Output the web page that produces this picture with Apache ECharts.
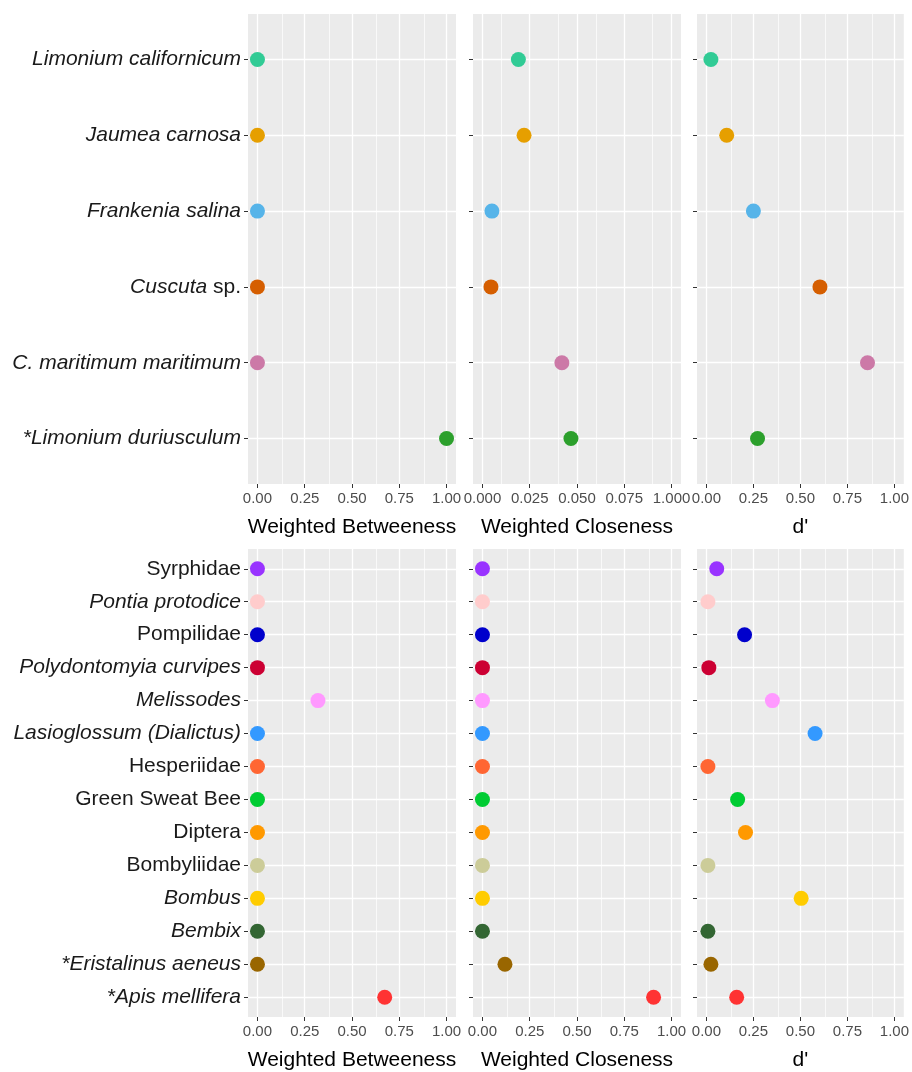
<!DOCTYPE html>
<html>
<head>
<meta charset="utf-8">
<script src="https://cdn.jsdelivr.net/npm/echarts@6/dist/echarts.min.js"></script>
<style>
  html, body { margin: 0; padding: 0; background: #ffffff; }
  #chart { width: 912px; height: 1072px; }
</style>
</head>
<body>
<div id="chart"></div>
<script>
// ---- Plants (listed top to bottom) ----
const plantNames = ['Limonium californicum', 'Jaumea carnosa', 'Frankenia salina', 'Cuscuta sp.', 'C. maritimum maritimum', '*Limonium duriusculum'];
const plantItalic = [true, true, true, true, true, true];
const plantColors = ['#31CB95', '#E69F00', '#56B4E9', '#D55E00', '#CC79A7', '#2CA02C'];
const plantBetweenness = [0, 0, 0, 0, 0, 1.0];
const plantCloseness = [0.019, 0.022, 0.005, 0.0045, 0.042, 0.0468];
const plantDprime = [0.024, 0.108, 0.25, 0.604, 0.857, 0.272];

// ---- Insects (listed top to bottom) ----
const insectNames = ['Syrphidae', 'Pontia protodice', 'Pompilidae', 'Polydontomyia curvipes', 'Melissodes', 'Lasioglossum (Dialictus)', 'Hesperiidae', 'Green Sweat Bee', 'Diptera', 'Bombyliidae', 'Bombus', 'Bembix', '*Eristalinus aeneus', '*Apis mellifera'];
const insectItalic = [false, true, false, true, true, true, false, false, false, false, true, true, true, true];
const insectColors = ['#9933FF', '#FFCCCC', '#0000CC', '#CC0033', '#FF99FF', '#3399FF', '#FF6633', '#00CC33', '#FF9900', '#CCCC99', '#FFCC00', '#336633', '#996600', '#FF3333'];
const insectBetweenness = [0, 0, 0, 0, 0.32, 0, 0, 0, 0, 0, 0, 0, 0, 0.673];
const insectCloseness = [0, 0, 0, 0, 0, 0, 0, 0, 0, 0, 0, 0, 0.119, 0.905];
const insectDprime = [0.055, 0.008, 0.203, 0.013, 0.351, 0.578, 0.008, 0.166, 0.208, 0.008, 0.504, 0.008, 0.024, 0.161];

// ---- Axis ticks ----
const unitTicks = [0, 0.25, 0.5, 0.75, 1];
const unitTickLabels = ['0.00', '0.25', '0.50', '0.75', '1.00'];
const unitMinor = [0.125, 0.375, 0.625, 0.875];
const closeTicks = [0, 0.025, 0.05, 0.075, 0.1];
const closeTickLabels = ['0.000', '0.025', '0.050', '0.075', '1.000'];
const closeMinor = [0.0125, 0.0375, 0.0625, 0.0875];
const axisTitles = ['Weighted Betweeness', 'Weighted Closeness', "d'"];

// ---- Layout (pixels) ----
const COLS = [[248, 456], [473, 681], [697, 905]];
const ROWS = [[14, 484], [549, 1020]];
const FONT = "'Liberation Sans', Arial, Helvetica, sans-serif";
const BIG = 21;

const rows = [
  {
    names: plantNames, italic: plantItalic, colors: plantColors,
    panels: [
      { values: plantBetweenness, ticks: unitTicks, labels: unitTickLabels, minor: unitMinor },
      { values: plantCloseness, ticks: closeTicks, labels: closeTickLabels, minor: closeMinor },
      { values: plantDprime, ticks: unitTicks, labels: unitTickLabels, minor: unitMinor }
    ]
  },
  {
    names: insectNames, italic: insectItalic, colors: insectColors,
    panels: [
      { values: insectBetweenness, ticks: unitTicks, labels: unitTickLabels, minor: unitMinor },
      { values: insectCloseness, ticks: unitTicks, labels: unitTickLabels, minor: unitMinor },
      { values: insectDprime, ticks: unitTicks, labels: unitTickLabels, minor: unitMinor }
    ]
  }
];

function categoryLabel(name, italic) {
  if (!italic) return '{r|' + name + '}';
  if (name.endsWith(' sp.')) return '{i|' + name.slice(0, -4) + '}{r| sp.}';
  return '{i|' + name + '}';
}

const grid = [], xAxis = [], yAxis = [], series = [];

rows.forEach(function (row, r) {
  const n = row.names.length;
  const yTicks = row.names.map(function (_, i) { return i + 1; });
  row.panels.forEach(function (p, c) {
    const idx = grid.length;
    const lo = p.ticks[0], hi = p.ticks[p.ticks.length - 1], span = hi - lo;
    grid.push({
      left: COLS[c][0], width: COLS[c][1] - COLS[c][0],
      top: ROWS[r][0], height: ROWS[r][1] - ROWS[r][0],
      show: true, backgroundColor: '#EBEBEB', borderWidth: 0, containLabel: false
    });
    xAxis.push({
      gridIndex: idx, type: 'value',
      min: lo - 0.05 * span, max: hi + 0.05 * span,
      axisLine: { show: false, onZero: false },
      axisTick: { show: true, length: 4, customValues: p.ticks, lineStyle: { color: '#333333', width: 1 } },
      axisLabel: {
        customValues: p.ticks, margin: 7, fontSize: 15, color: '#4D4D4D', fontFamily: FONT,
        formatter: function (v) {
          const k = p.ticks.findIndex(function (t) { return Math.abs(t - v) < 1e-9; });
          return k >= 0 ? p.labels[k] : '';
        }
      },
      splitLine: { show: true, lineStyle: { color: '#FFFFFF', width: 1.3 } },
      name: axisTitles[c], nameLocation: 'middle', nameGap: 33,
      nameTextStyle: { fontSize: BIG, color: '#000000', fontFamily: FONT }
    });
    yAxis.push({
      gridIndex: idx, type: 'value', min: 0.4, max: n + 0.6,
      axisLine: { show: false, onZero: false },
      axisTick: { show: true, length: 4, customValues: yTicks, lineStyle: { color: '#333333', width: 1 } },
      axisLabel: {
        show: c === 0, customValues: yTicks, margin: 7,
        formatter: function (v) {
          const i = n - Math.round(v);
          return categoryLabel(row.names[i], row.italic[i]);
        },
        rich: {
          i: { fontStyle: 'italic', fontSize: BIG, color: '#1A1A1A', fontFamily: FONT },
          r: { fontStyle: 'normal', fontSize: BIG, color: '#1A1A1A', fontFamily: FONT }
        }
      },
      splitLine: { show: true, lineStyle: { color: '#FFFFFF', width: 1.3 } }
    });
    // minor vertical grid lines, kept beneath the points
    series.push({
      type: 'scatter', xAxisIndex: idx, yAxisIndex: idx, data: [], z: 1,
      markLine: {
        z: 1, silent: true, symbol: ['none', 'none'], label: { show: false },
        lineStyle: { color: '#FFFFFF', width: 0.7, type: 'solid' },
        emphasis: { disabled: true },
        data: p.minor.map(function (v) { return { xAxis: v }; })
      }
    });
    // points
    series.push({
      type: 'scatter', xAxisIndex: idx, yAxisIndex: idx, z: 3,
      symbolSize: 15,
      data: p.values.map(function (v, i) {
        return { value: [v, n - i], itemStyle: { color: row.colors[i], opacity: 1 } };
      })
    });
  });
});

const chart = echarts.init(document.getElementById('chart'), null, { renderer: 'canvas' });
chart.setOption({
  animation: false,
  backgroundColor: '#FFFFFF',
  textStyle: { fontFamily: FONT },
  grid: grid, xAxis: xAxis, yAxis: yAxis, series: series
});
</script>
</body>
</html>
